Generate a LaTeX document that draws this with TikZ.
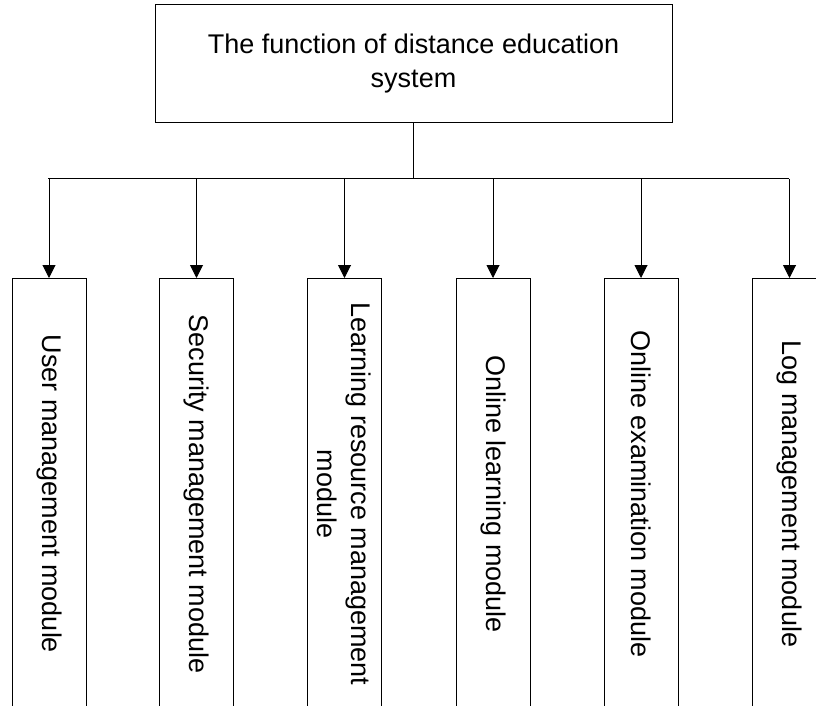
\documentclass[tikz,border=0pt]{standalone}
\usepackage{fontspec}
\setmainfont{Liberation Sans}
\usetikzlibrary{arrows.meta}
\begin{document}
\begin{tikzpicture}[x=1pt,y=-1pt,
  line width=1pt,
  every node/.style={font=\fontsize{27}{34}\selectfont, inner sep=0pt, outer sep=0pt},
  topbox/.style={draw, minimum width=517pt, minimum height=118pt, align=center},
  modbox/.style={draw, minimum width=74pt, minimum height=432pt},
  modlabel/.style={rotate=-90, align=center},
  arr/.style={-{Triangle[width=13pt,length=13pt]}}]
\useasboundingbox (0,0) rectangle (816,706);
\clip (0,0) rectangle (816,706);
\node[topbox] (top) at (413.5,64) {The function of distance education\\system};
\coordinate (j) at (413.5,178.5);
\coordinate (l) at (48,178.5);
\coordinate (r) at (789,178.5);
\node[modbox] (m1) at (49,494) {};
\node[modbox] (m2) at (196.5,494) {};
\node[modbox] (m3) at (344.5,494) {};
\node[modbox] (m4) at (493,494) {};
\node[modbox] (m5) at (641,494) {};
\node[modbox] (m6) at (789.5,494) {};
\node[modlabel] (t1) at (m1.center) {User management module};
\node[modlabel] (t2) at (m2.center) {Security management module};
\node[modlabel] (t3) at (m3.center) {Learning resource management\\module};
\node[modlabel] (t4) at (m4.center) {Online learning module};
\node[modlabel] (t5) at (m5.center) {Online examination module};
\node[modlabel] (t6) at (m6.center) {Log management module};
\draw (top.south) -- (j);
\draw (l) -- (r);
\foreach \m in {m1,m2,m3,m4,m5,m6}
  \draw[arr] (\m.north |- j) -- (\m.north);
\end{tikzpicture}
\end{document}
